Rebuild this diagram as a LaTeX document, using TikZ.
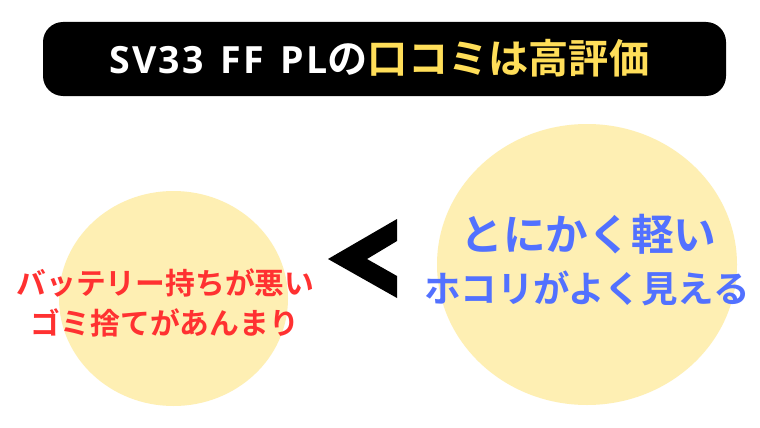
\documentclass[tikz,border=0pt]{standalone}
\usepackage{fontspec}
\usetikzlibrary{shapes.geometric}
\newfontfamily\cjk{Noto Sans CJK JP}[BoldFont={Noto Sans CJK JP Bold}]
\newfontfamily\latinspaced{Open Sans}[LetterSpace=6,WordSpace=1.4]
\definecolor{circ}{HTML}{FEEFB3}
\definecolor{gold}{HTML}{FFDE59}
\definecolor{bluet}{HTML}{5271FF}
\definecolor{redt}{HTML}{FF3131}
\tikzset{x=1pt,y=-1pt,
 blob/.style={ellipse,fill=circ,draw=none,inner sep=0pt},
 lab/.style={inner sep=0pt}}
\begin{document}
\begin{tikzpicture}
\useasboundingbox (0,0) rectangle (760,428);
\fill[white] (0,0) rectangle (760,428);
\node[fill=black,minimum width=683pt,minimum height=74pt,rounded corners=20pt,inner sep=0pt] (bar) at (384.5,59) {};
\node[lab,white,font=\latinspaced\bfseries\fontsize{37.5}{37.5}\selectfont,anchor=base west] (t1) at (109,74) {SV33 FF PL{\cjk\fontsize{40.2}{40.2}\selectfont の\textcolor{gold}{口コミは高評価}}};
\node[blob,minimum width=229pt,minimum height=215pt] (l) at (173.5,298.5) {};
\node[blob,minimum width=300pt,minimum height=281pt] (r) at (587,264.5) {};
\fill[black] (397,219) -- (328,259) -- (397,298) -- (397,276) -- (367,259) -- (397,241) -- cycle;
\node[lab,redt,font=\cjk\bfseries\fontsize{29.8}{29.8}\selectfont] (r1) at (165.5,283) {バッテリー持ちが悪い};
\node[lab,redt,font=\cjk\bfseries\fontsize{29.8}{29.8}\selectfont] (r2) at (165,323) {ゴミ捨てがあんまり};
\node[lab,bluet,font=\cjk\bfseries\fontsize{42.7}{42.7}\selectfont] (b1) at (588.5,234) {とにかく軽い};
\node[lab,bluet,font=\cjk\bfseries\fontsize{36.5}{36.5}\selectfont] (b2) at (587,288) {ホコリがよく見える};
\end{tikzpicture}
\end{document}
